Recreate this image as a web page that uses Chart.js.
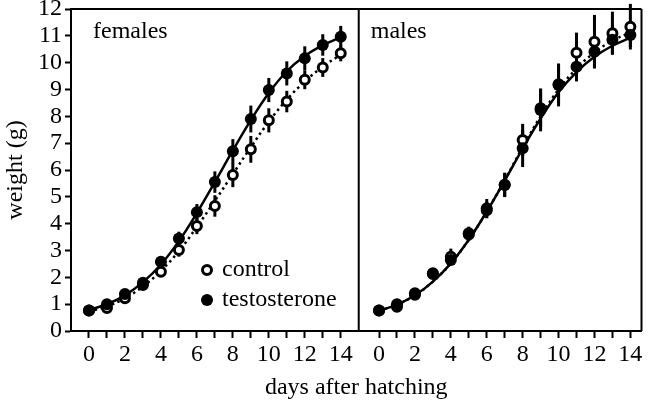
<!DOCTYPE html>
<html><head><meta charset="utf-8">
<script src="https://cdn.jsdelivr.net/npm/chart.js@4/dist/chart.umd.min.js"></script>
<style>html,body{margin:0;padding:0;background:#fff}#wrap{position:relative;width:649px;height:402px}</style>
</head><body><div id="wrap"><canvas id="c" width="649" height="402"></canvas></div>
<script>
// ---- data ----
const days = [0,1,2,3,4,5,6,7,8,9,10,11,12,13,14];
const xTickValues = [0,1,2,3,4,5,6,7,8,9,10,11,12,13,14];
const yTickValues = [0,1,2,3,4,5,6,7,8,9,10,11,12];
const panelLabels = ['females','males'];
const seriesNames = ['control','testosterone'];
const xAxisTitle = 'days after hatching';
const yAxisTitle = 'weight (g)';

const femaleControl = [0.76,0.86,1.22,1.71,2.21,3.02,3.91,4.66,5.81,6.77,7.85,8.55,9.36,9.82,10.35];
const femaleControlErr = [0.08,0.1,0.12,0.15,0.2,0.25,0.3,0.4,0.45,0.5,0.45,0.4,0.35,0.35,0.3];
const femaleTesto = [0.76,1.0,1.38,1.8,2.58,3.45,4.43,5.55,6.7,7.9,8.98,9.6,10.16,10.66,10.97];
const femaleTestoErr = [0.08,0.1,0.12,0.15,0.2,0.25,0.3,0.4,0.45,0.5,0.45,0.45,0.45,0.4,0.4];
const femaleControlFit = [0.72,0.92,1.22,1.66,2.24,2.98,3.88,4.85,5.85,6.85,7.8,8.62,9.3,9.85,10.3];
const femaleTestoFit = [0.78,1.0,1.33,1.82,2.48,3.35,4.4,5.55,6.73,7.86,8.87,9.68,10.25,10.65,10.95];

const maleControl = [0.76,0.9,1.35,2.12,2.77,3.6,4.5,5.45,7.12,8.3,9.2,10.37,10.78,11.1,11.34];
const maleControlErr = [0.08,0.1,0.12,0.15,0.3,0.25,0.3,0.45,0.6,0.7,0.7,0.75,1.0,0.8,0.85];
const maleTesto = [0.76,1.0,1.41,2.15,2.65,3.64,4.57,5.44,6.81,8.24,9.17,9.85,10.41,10.85,11.03];
const maleTestoErr = [0.08,0.1,0.12,0.15,0.2,0.25,0.35,0.45,0.7,0.8,0.8,0.55,0.6,0.55,0.45];
const maleControlFit = [0.76,0.98,1.33,1.84,2.52,3.4,4.45,5.62,6.85,8.0,9.0,9.78,10.38,10.82,11.12];
const maleTestoFit = [0.76,0.98,1.33,1.84,2.52,3.4,4.45,5.6,6.8,7.92,8.9,9.65,10.22,10.63,10.93];

// ---- styling ----
const FONT = {family:'"Liberation Serif","Times New Roman",serif', size:24, weight:'normal', lineHeight:1.2};
const pts = (ys) => days.map((d,i)=>({x:d,y:ys[i]}));

function markerSet(label, ys, errs, axis, open){
  return {label, data: pts(ys), err: errs, xAxisID: axis, showLine:false, order: open?2:1,
    pointStyle:'circle', pointRadius: open?4.5:6, pointHoverRadius: open?4.5:6,
    pointBorderWidth: open?3:0, pointBorderColor:'#000',
    pointBackgroundColor: open?'#fff':'#000', borderColor:'#000', backgroundColor: open?'#fff':'#000'};
}
function fitSet(label, ys, axis, dotted){
  return {label, data: pts(ys), xAxisID: axis, showLine:true, order:3, pointRadius:0, pointHoverRadius:0,
    borderColor:'#000', borderWidth:2.5, borderDash: dotted?[2.5,3.5]:[], tension:0.4, fill:false};
}

const decor = {
  id:'decor',
  beforeDatasetsDraw(chart){
    const ctx = chart.ctx, y = chart.scales.y;
    ctx.save();
    ctx.strokeStyle = '#000'; ctx.lineWidth = 3; ctx.lineCap = 'butt';
    chart.data.datasets.forEach((ds)=>{
      if(!ds.err) return;
      const xs = chart.scales[ds.xAxisID];
      ds.data.forEach((p,i)=>{
        const e = ds.err[i];
        const px = xs.getPixelForValue(p.x);
        ctx.beginPath();
        ctx.moveTo(px, y.getPixelForValue(p.y - e));
        ctx.lineTo(px, y.getPixelForValue(p.y + e));
        ctx.stroke();
      });
    });
    ctx.restore();
  },
  afterDatasetsDraw(chart){
    const ctx = chart.ctx, a = chart.chartArea, xF = chart.scales.xF;
    ctx.save();
    ctx.strokeStyle = '#000'; ctx.lineWidth = 2;
    ctx.beginPath();
    ctx.moveTo(a.left, a.top); ctx.lineTo(a.right, a.top);
    ctx.moveTo(a.right, a.top); ctx.lineTo(a.right, a.bottom);
    ctx.moveTo(xF.right, a.top); ctx.lineTo(xF.right, a.bottom);
    ctx.stroke();
    // panel labels
    ctx.fillStyle = '#000';
    ctx.font = FONT.size + 'px ' + FONT.family;
    ctx.textBaseline = 'middle'; ctx.textAlign = 'left';
    ctx.fillText(panelLabels[0], xF.left + 22, a.top + 23);
    ctx.fillText(panelLabels[1], xF.right + 12, a.top + 23);
    // legend
    const lx = 207, ly1 = 270, ly2 = 300;
    ctx.beginPath(); ctx.arc(lx, ly1, 4.5, 0, Math.PI*2);
    ctx.fillStyle = '#fff'; ctx.fill(); ctx.lineWidth = 3; ctx.strokeStyle = '#000'; ctx.stroke();
    ctx.beginPath(); ctx.arc(lx, ly2, 6, 0, Math.PI*2); ctx.fillStyle = '#000'; ctx.fill();
    ctx.fillText(seriesNames[0], 222, ly1);
    ctx.fillText(seriesNames[1], 222, ly2);
    ctx.restore();
  }
};

function xAxis(min, max, weight){
  return {type:'linear', position:'bottom', stack:'x', stackWeight:weight, min, max,
    afterBuildTicks(s){ s.ticks = xTickValues.map(v=>({value:v})); },
    ticks:{autoSkip:false, maxRotation:0, minRotation:0, padding:2, color:'#000', font:FONT,
      callback:(v)=> (v % 2 === 0 ? String(v) : '')},
    grid:{drawOnChartArea:false, drawTicks:true, tickLength:7, tickWidth:2, tickColor:'#000'},
    border:{display:true, width:2, color:'#000'},
    afterFit(s){ s.height = 38; s.paddingLeft = 0; s.paddingRight = 0; }
  };
}

new Chart(document.getElementById('c'), {
  type:'line',
  data:{datasets:[
    fitSet('control fit', femaleControlFit, 'xF', true),
    fitSet('testosterone fit', femaleTestoFit, 'xF', false),
    fitSet('control fit', maleControlFit, 'xM', true),
    fitSet('testosterone fit', maleTestoFit, 'xM', false),
    markerSet(seriesNames[0], femaleControl, femaleControlErr, 'xF', true),
    markerSet(seriesNames[1], femaleTesto, femaleTestoErr, 'xF', false),
    markerSet(seriesNames[0], maleControl, maleControlErr, 'xM', true),
    markerSet(seriesNames[1], maleTesto, maleTestoErr, 'xM', false)
  ]},
  options:{
    responsive:false, animation:false, devicePixelRatio:1,
    layout:{padding:{left:0, right:3, top:9, bottom:0.2}},
    plugins:{
      legend:{display:false}, tooltip:{enabled:false},
      title:{display:true, text:xAxisTitle, position:'bottom', fullSize:false, color:'#000', font:FONT, padding:{top:4,bottom:0}}
    },
    scales:{
      xF: xAxis(-1, 15, 290),
      xM: xAxis(-1.13, 14.62, 285),
      y:{type:'linear', position:'left', min:0, max:12,
        afterBuildTicks(s){ s.ticks = yTickValues.map(v=>({value:v})); },
        ticks:{autoSkip:false, padding:3, color:'#000', font:FONT},
        grid:{drawOnChartArea:false, tickLength:6, tickWidth:2, tickColor:'#000'},
        border:{display:true, width:2, color:'#000'},
        title:{display:true, text:yAxisTitle, color:'#000', font:FONT, padding:{top:1,bottom:0}},
        afterFit(s){ s.width = 71; s.paddingTop = 0; s.paddingBottom = 0; }
      }
    }
  },
  plugins:[decor]
});
</script></body></html>
